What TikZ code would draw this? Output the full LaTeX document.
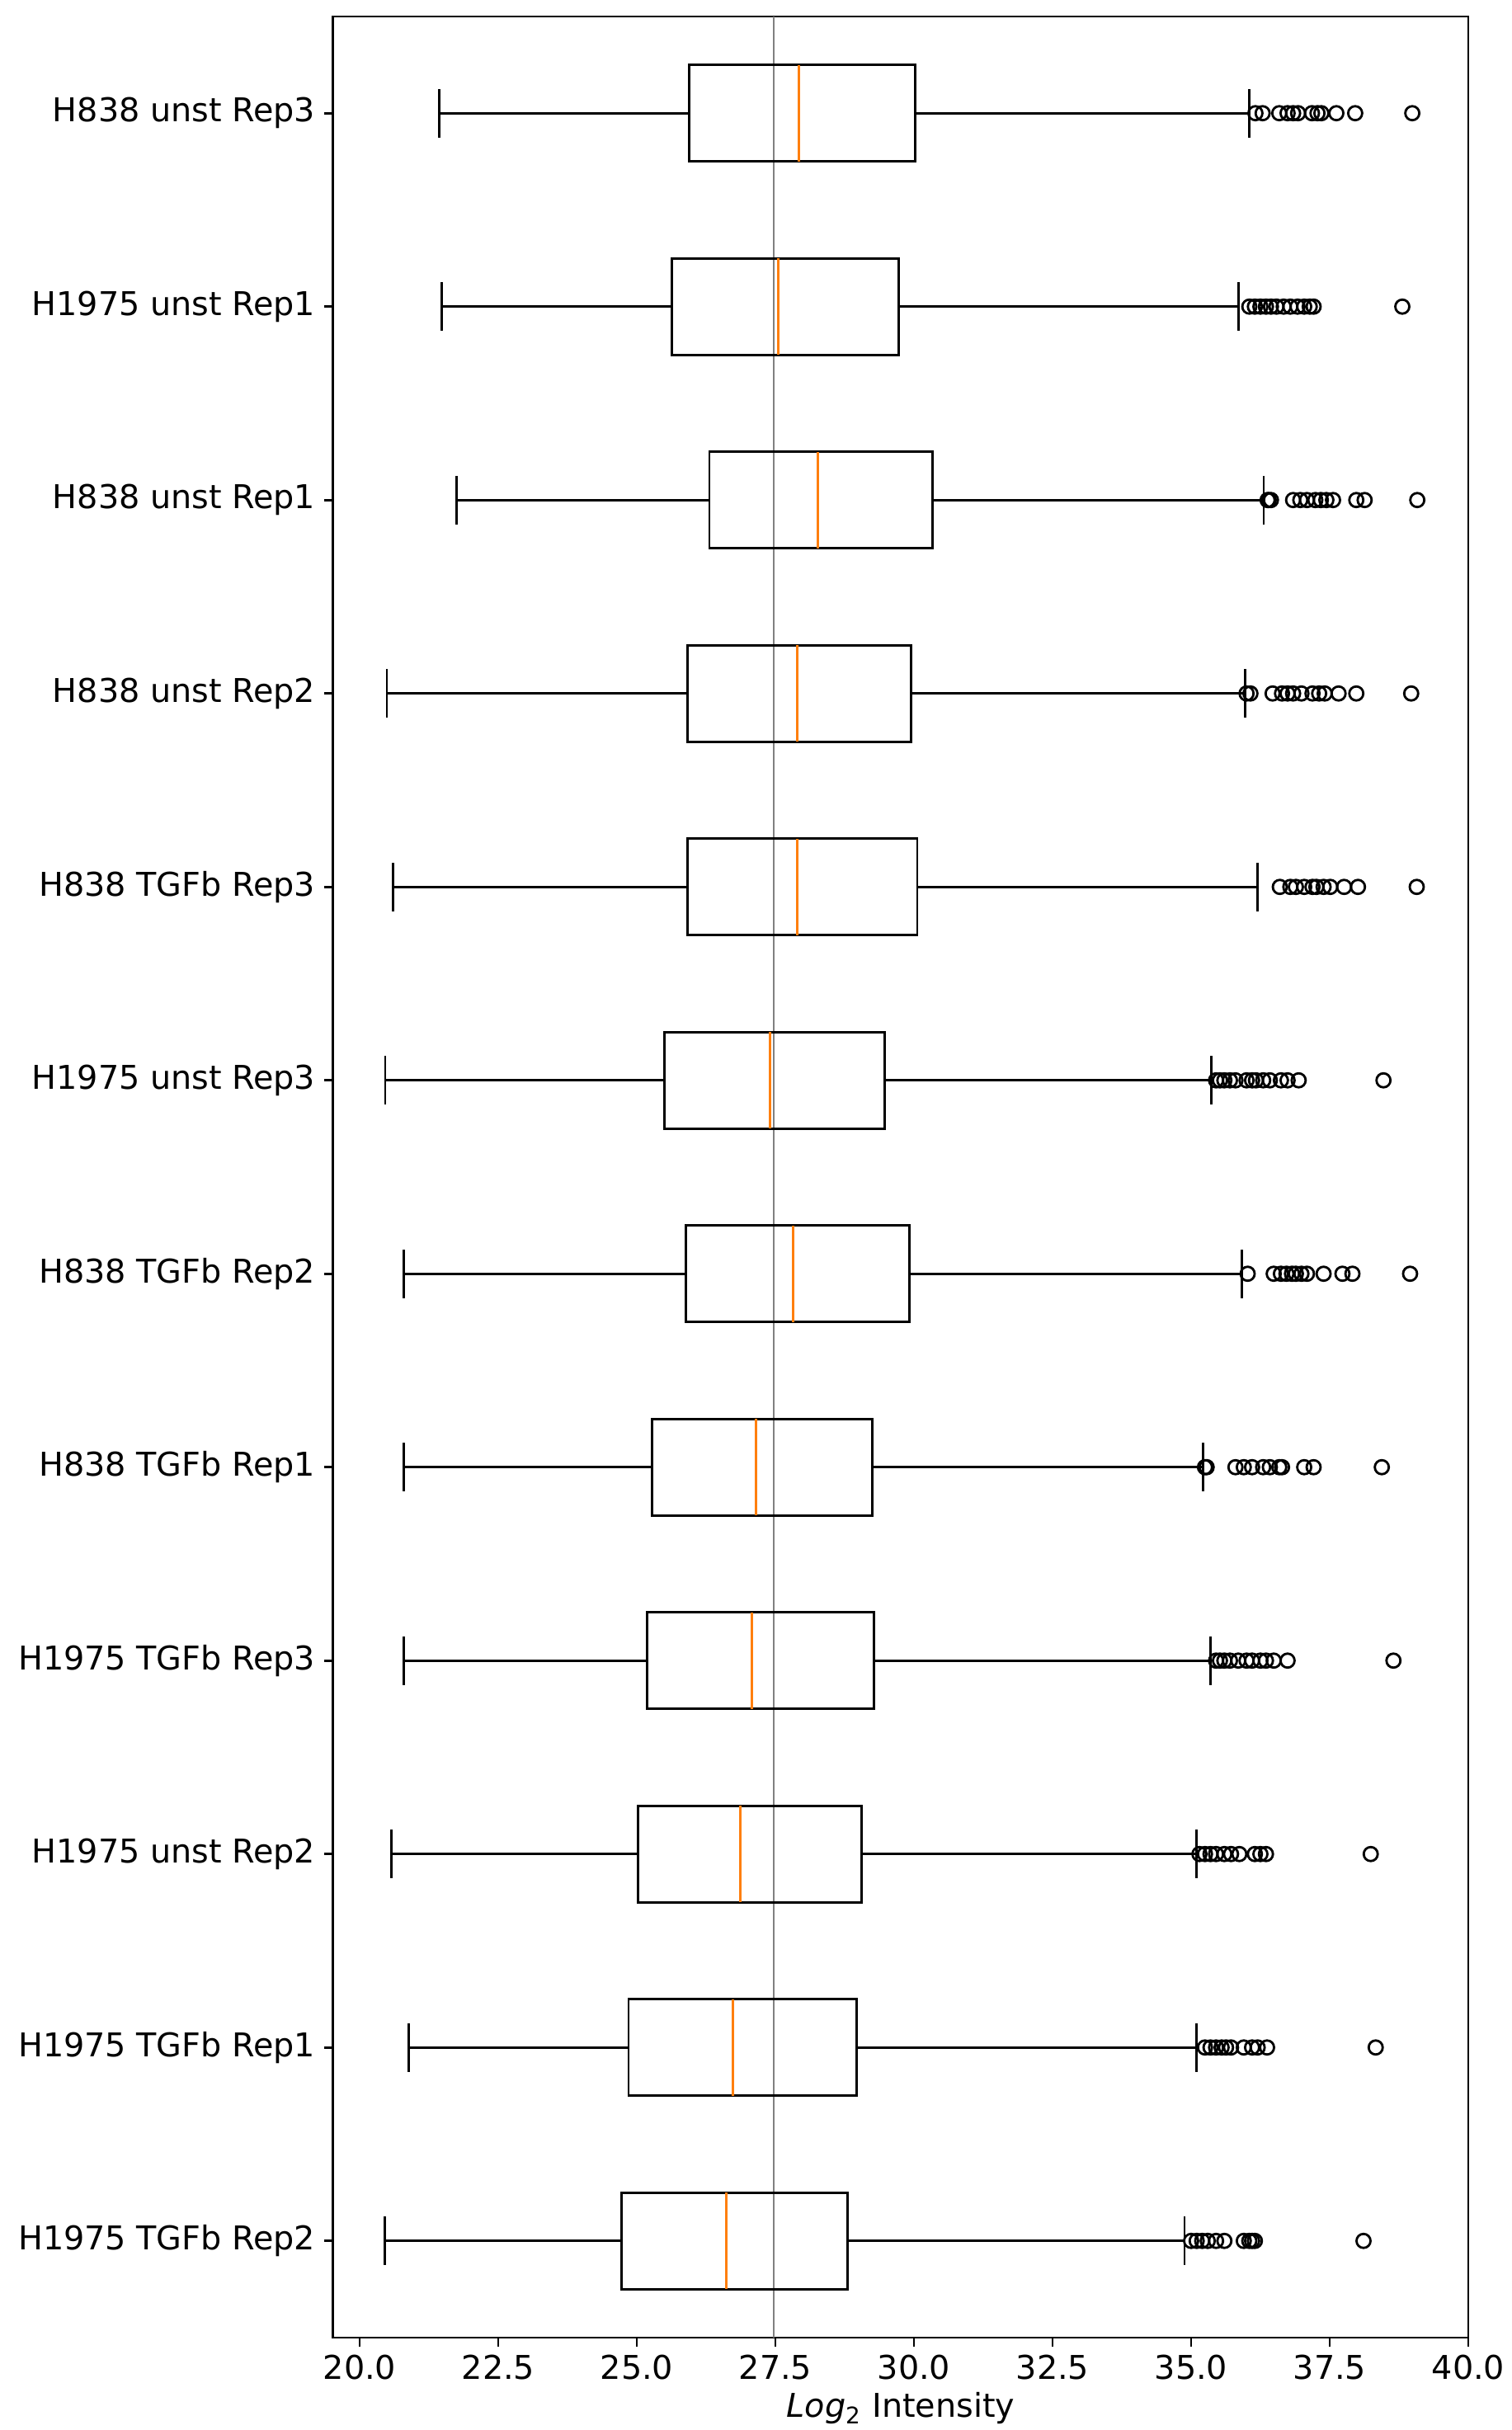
\documentclass[tikz,border=0pt]{standalone}
\usepackage{fontspec}
\setmainfont{DejaVu Sans}
\definecolor{medorange}{HTML}{FF7F0E}
\definecolor{refgray}{HTML}{808080}
\begin{document}
\begin{tikzpicture}[font=\fontsize{11.3}{13.6}\selectfont]
  \useasboundingbox (0,0) rectangle (18.33,29.46);
  \begin{scope}[x=0.672cm,y=-2.345cm,xshift=-9.08cm,yshift=30.4325cm]
  % frame and ticks
  \draw[line width=0.75pt] (19.52,0.5) rectangle (40,12.5);
  \foreach \x in {20.0,22.5,25.0,27.5,30.0,32.5,35.0,37.5,40.0} {
    \draw[line width=0.75pt] (\x,12.5) -- ++(0,-0.11cm);
    \node[anchor=base,yshift=-0.505cm] (xlab\x) at (\x,12.5) {\x};
  }
  \node[anchor=base] (xtitle) at (29.76,12.5) [yshift=-0.97cm] {{\itshape Log}\textsubscript{2} Intensity};
  \draw[refgray,line width=0.8pt] (27.47,0.5) -- (27.47,12.5);

  % boxes: row/label/low/q1/median/q3/high/fliers
  \foreach \r/\lab/\lo/\qa/\md/\qb/\hi/\fl in {
    1/H838 unst Rep3/21.44/25.95/27.93/30.02/36.05/{36.16,36.29,36.59,36.74,36.84,36.93,37.18,37.28,37.35,37.62,37.96,38.99},
    2/H1975 unst Rep1/21.48/25.63/27.55/29.72/35.85/{36.05,36.15,36.25,36.35,36.44,36.54,36.67,36.79,36.92,37.04,37.14,37.21,38.81},
    3/H838 unst Rep1/21.75/26.31/28.27/30.34/36.31/{36.38,36.40,36.44,36.84,36.97,37.09,37.24,37.34,37.44,37.56,37.98,38.13,39.08},
    4/H838 unst Rep2/20.49/25.92/27.90/29.95/35.97/{36.00,36.07,36.47,36.64,36.74,36.84,36.99,37.19,37.31,37.41,37.66,37.98,38.97},
    5/H838 TGFb Rep3/20.60/25.92/27.90/30.06/36.20/{36.60,36.79,36.89,37.04,37.19,37.26,37.39,37.51,37.76,38.01,39.07},
    6/H1975 unst Rep3/20.46/25.50/27.40/29.47/35.37/{35.45,35.52,35.60,35.70,35.80,36.00,36.10,36.17,36.30,36.42,36.62,36.74,36.94,38.47},
    7/H838 TGFb Rep2/20.80/25.89/27.82/29.92/35.92/{36.02,36.49,36.62,36.72,36.82,36.89,36.99,37.09,37.39,37.73,37.91,38.95},
    8/H838 TGFb Rep1/20.80/25.27/27.15/29.25/35.21/{35.25,35.28,35.80,35.95,36.10,36.30,36.42,36.59,36.64,37.04,37.21,38.44},
    9/H1975 TGFb Rep3/20.80/25.19/27.07/29.28/35.35/{35.45,35.52,35.60,35.70,35.85,36.00,36.10,36.25,36.35,36.49,36.74,38.65},
    10/H1975 unst Rep2/20.57/25.02/26.87/29.05/35.10/{35.15,35.25,35.35,35.45,35.60,35.72,35.87,36.15,36.25,36.35,38.24},
    11/H1975 TGFb Rep1/20.88/24.85/26.73/28.97/35.10/{35.25,35.35,35.45,35.55,35.63,35.72,35.95,36.10,36.20,36.37,38.33},
    12/H1975 TGFb Rep2/20.45/24.73/26.61/28.80/34.88/{35.00,35.10,35.20,35.30,35.45,35.60,35.95,36.05,36.10,36.15,38.11}} {
    \draw[line width=0.75pt] (19.52,\r) -- ++(-0.11cm,0);
    \node[anchor=east,inner xsep=0pt] (ylab\r) at (19.21,\r) {\lab};
    \draw[line width=0.8pt] (\qa,\r-0.25) rectangle (\qb,\r+0.25);
    \draw[line width=0.8pt] (\lo,\r) -- (\qa,\r) (\qb,\r) -- (\hi,\r);
    \draw[line width=0.8pt] (\lo,\r-0.125) -- (\lo,\r+0.125) (\hi,\r-0.125) -- (\hi,\r+0.125);
    \draw[medorange,line width=0.8pt] (\md,\r-0.25) -- (\md,\r+0.25);
    \foreach \f in \fl
      \draw[line width=0.8pt] (\f,\r) circle[radius=0.085cm];
  }
  \end{scope}
\end{tikzpicture}
\end{document}
